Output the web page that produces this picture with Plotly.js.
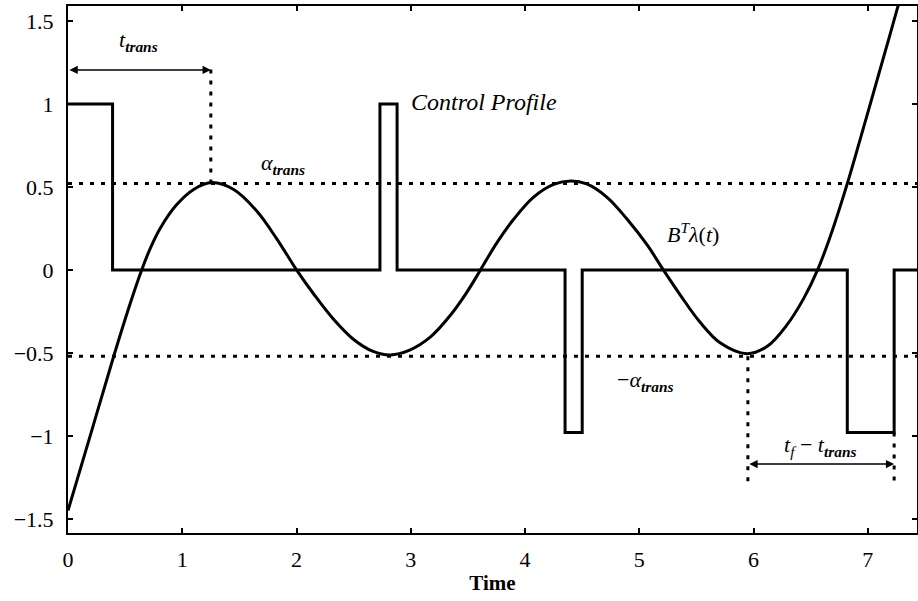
<!DOCTYPE html>
<html>
<head>
<meta charset="utf-8">
<script src="https://cdn.plot.ly/plotly-3.0.1.min.js"></script>
<style>html,body{margin:0;padding:0;background:#fff;}#chart{width:918px;height:601px;}</style>
</head>
<body>
<div id="chart"></div>
<script>
// ---- data ----
const controlT = [0, 0.39, 2.73, 2.88, 4.35, 4.50, 6.82, 7.23, 7.43];
const controlU = [1, 0, 1, 0, -0.98, 0, -0.98, 0, 0];

const lambdaT = [0, 0.207, 0.40, 0.55, 0.645, 0.72, 0.806, 0.95, 1.10, 1.26, 1.45, 1.65, 1.83, 2.00, 2.15, 2.32, 2.50, 2.67, 2.82, 2.99, 3.17, 3.35, 3.49, 3.61, 3.75, 3.90, 4.07, 4.25, 4.40, 4.54, 4.72, 4.89, 5.07, 5.21, 5.36, 5.53, 5.71, 5.94, 6.12, 6.29, 6.44, 6.56, 6.67, 6.82, 6.93, 7.05, 7.17, 7.26, 7.30];
const lambdaY = [-1.45, -0.97, -0.52, -0.19, 0.0, 0.13, 0.25, 0.392, 0.485, 0.526, 0.484, 0.356, 0.184, 0.0, -0.145, -0.294, -0.419, -0.491, -0.512, -0.483, -0.405, -0.27, -0.135, 0.0, 0.16, 0.305, 0.436, 0.515, 0.536, 0.518, 0.436, 0.308, 0.149, 0.0, -0.153, -0.314, -0.441, -0.505, -0.46, -0.333, -0.17, 0.0, 0.20, 0.52, 0.78, 1.07, 1.36, 1.58, 1.68];

const alphaTrans = 0.52;
const tTrans = 1.25;          // time of first peak
const tTroughLast = 5.95;     // last trough time
const tFinal = 7.23;          // end of last pulse
const xRange = [0, 7.43];
const yRange = [-1.585, 1.59];

const xTickVals = [0, 1, 2, 3, 4, 5, 6, 7];
const xTickText = ['0', '1', '2', '3', '4', '5', '6', '7'];
const yTickVals = [-1.5, -1, -0.5, 0, 0.5, 1, 1.5];
const yTickText = ['\u22121.5', '\u22121', '\u22120.5', '0', '0.5', '1', '1.5'];

// ---- traces ----
const dotted = {color: '#000', width: 3, dash: '4px,7px'};
const traces = [
  {x: xRange, y: [alphaTrans, alphaTrans], mode: 'lines', line: dotted, hoverinfo: 'skip'},
  {x: xRange, y: [-alphaTrans, -alphaTrans], mode: 'lines', line: dotted, hoverinfo: 'skip'},
  {x: [tTrans, tTrans], y: [alphaTrans, 1.25], mode: 'lines', line: dotted, hoverinfo: 'skip'},
  {x: [tTroughLast, tTroughLast], y: [-alphaTrans, -1.28], mode: 'lines', line: dotted, hoverinfo: 'skip'},
  {x: [tFinal, tFinal], y: [-0.98, -1.28], mode: 'lines', line: dotted, hoverinfo: 'skip'},
  {x: controlT, y: controlU, mode: 'lines', line: {color: '#000', width: 3, shape: 'hv'}, name: 'Control Profile'},
  {x: lambdaT, y: lambdaY, mode: 'lines', line: {color: '#000', width: 3, shape: 'spline', smoothing: 1}, name: 'B^T lambda(t)'}
];

const FAM = 'Liberation Serif, DejaVu Serif, serif';
const txtFont = {family: FAM, size: 22, color: '#000'};
const annotations = [
  {x: 0.62, y: 1.38, xref: 'x', yref: 'y', text: '<i>t<sub><b>trans</b></sub></i>', showarrow: false, font: txtFont},
  {x: tTrans, y: 1.205, ax: 0, ay: 1.205, xref: 'x', yref: 'y', axref: 'x', ayref: 'y', text: '', showarrow: true, arrowhead: 2, startarrowhead: 2, arrowside: 'end+start', arrowsize: 1.1, arrowwidth: 1.5, arrowcolor: '#000'},
  {x: 1.88, y: 0.64, xref: 'x', yref: 'y', text: '<i>α<sub><b>trans</b></sub></i>', showarrow: false, font: txtFont},
  {x: 2.98, y: 1.01, xref: 'x', yref: 'y', xanchor: 'left', text: '<i>Control Profile</i>', showarrow: false, font: {family: FAM, size: 24, color: '#000'}},
  {x: 5.47, y: 0.22, xref: 'x', yref: 'y', text: '<i>B<sup>T</sup>λ</i>(<i>t</i>)', showarrow: false, font: txtFont},
  {x: 5.05, y: -0.67, xref: 'x', yref: 'y', text: '−<i>α<sub><b>trans</b></sub></i>', showarrow: false, font: txtFont},
  {x: 6.58, y: -1.06, xref: 'x', yref: 'y', text: '<i>t<sub>f</sub></i> − <i>t<sub><b>trans</b></sub></i>', showarrow: false, font: txtFont},
  {x: tFinal, y: -1.17, ax: tTroughLast, ay: -1.17, xref: 'x', yref: 'y', axref: 'x', ayref: 'y', text: '', showarrow: true, arrowhead: 2, startarrowhead: 2, arrowside: 'end+start', arrowsize: 1.1, arrowwidth: 1.5, arrowcolor: '#000'}
];

const axisCommon = {
  showgrid: false, zeroline: false, showline: true, linecolor: '#000', linewidth: 2,
  mirror: 'ticks', ticks: 'inside', ticklen: 5, tickwidth: 2, tickcolor: '#000',
  tickfont: {family: FAM, size: 22, color: '#000'}
};

const layout = {
  width: 918, height: 601,
  margin: {l: 68, r: 1, t: 6, b: 68},
  paper_bgcolor: '#fff', plot_bgcolor: '#fff',
  showlegend: false,
  font: {family: FAM, color: '#000'},
  xaxis: Object.assign({}, axisCommon, {
    range: xRange, tickvals: xTickVals, ticktext: xTickText, ticklabelstandoff: 6,
    title: {text: '<b>Time</b>', font: {family: FAM, size: 21, color: '#000'}, standoff: 4}
  }),
  yaxis: Object.assign({}, axisCommon, {
    range: yRange, tickvals: yTickVals, ticktext: yTickText, ticklabelstandoff: 8
  }),
  annotations: annotations
};

Plotly.newPlot('chart', traces, layout, {displayModeBar: false, staticPlot: true});
</script>
</body>
</html>
